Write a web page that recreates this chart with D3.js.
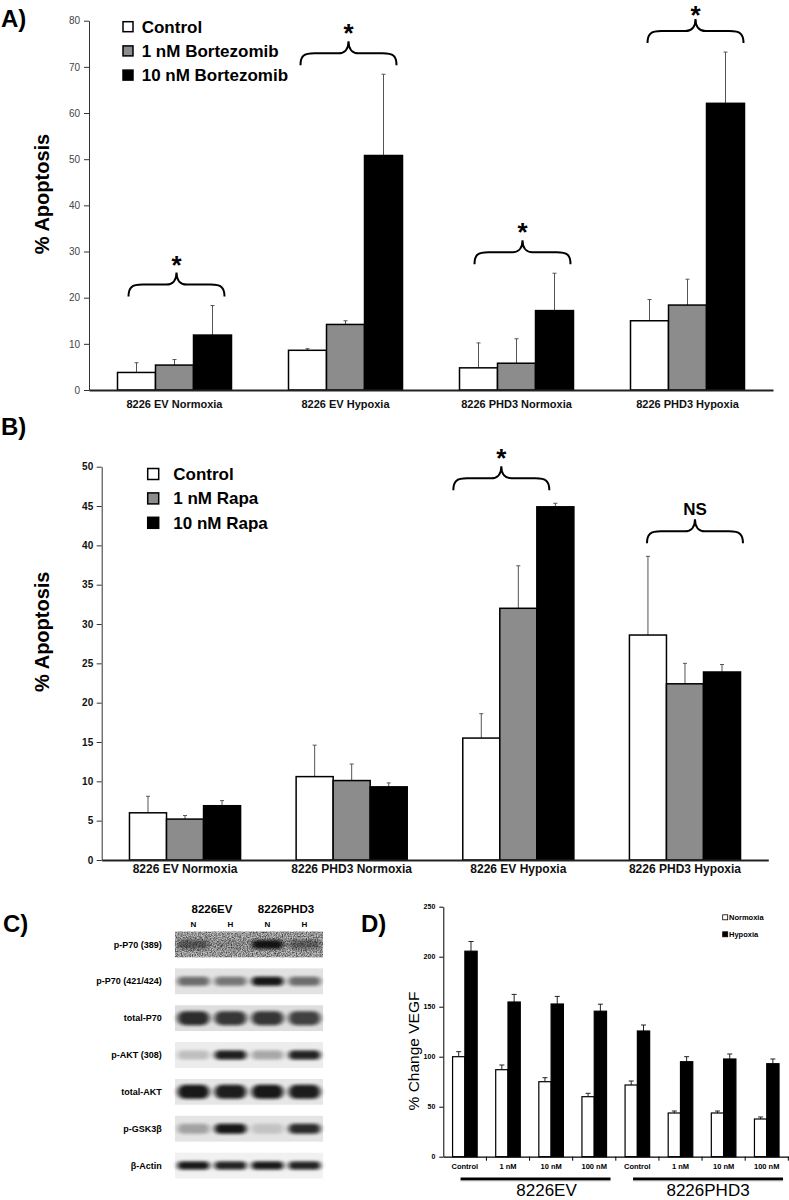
<!DOCTYPE html>
<html>
<head>
<meta charset="utf-8">
<script src="https://cdn.jsdelivr.net/npm/d3@7"></script>
<style>
  body { margin: 0; background: #fff; }
  svg { display: block; }
</style>
</head>
<body>
<svg id="fig" width="789" height="1200"></svg>
<script>
// ---- data: panel A (bortezomib) ----
const catsA = ["8226 EV Normoxia", "8226 EV Hypoxia", "8226 PHD3 Normoxia", "8226 PHD3 Hypoxia"];
const seriesA = ["Control", "1 nM Bortezomib", "10 nM Bortezomib"];
const controlA = [3.8, 8.6, 4.8, 15.0];
const bort1A = [5.4, 14.2, 5.8, 18.4];
const bort10A = [11.9, 50.8, 17.2, 62.1];
const controlErrA = [2.1, 0.35, 5.4, 4.6];
const bort1ErrA = [1.2, 0.8, 5.3, 5.6];
const bort10ErrA = [6.4, 17.6, 8.1, 11.1];
const sigA = ["*", "*", "*", "*"];

// ---- data: panel B (rapamycin) ----
const catsB = ["8226 EV Normoxia", "8226 PHD3 Normoxia", "8226 EV Hypoxia", "8226 PHD3 Hypoxia"];
const seriesB = ["Control", "1 nM Rapa", "10 nM Rapa"];
const controlB = [6.0, 10.6, 15.5, 28.6];
const rapa1B = [5.2, 10.1, 32.0, 22.4];
const rapa10B = [6.9, 9.3, 44.9, 23.9];
const controlErrB = [2.1, 4.0, 3.1, 10.0];
const rapa1ErrB = [0.45, 2.1, 5.4, 2.6];
const rapa10ErrB = [0.65, 0.5, 0.45, 0.95];
const sigB = [null, null, "*", "NS"];

// ---- data: panel C (western blot band intensity, 0..1) ----
const blotRows = ["p-P70 (389)", "p-P70 (421/424)", "total-P70", "p-AKT (308)", "total-AKT", "p-GSK3\u03b2", "\u03b2-Actin"];
const blotLanes = ["N", "H", "N", "H"];
const blotGroups = ["8226EV", "8226PHD3"];
const blotIntensity = [
  [0.5, 0.12, 0.95, 0.45],
  [0.55, 0.5, 0.95, 0.55],
  [0.85, 0.8, 0.8, 0.75],
  [0.2, 0.92, 0.3, 0.9],
  [0.95, 0.92, 0.95, 0.92],
  [0.3, 0.95, 0.15, 0.85],
  [0.95, 0.9, 0.95, 0.9],
];

// ---- data: panel D (VEGF) ----
const doseLabels = ["Control", "1 nM", "10 nM", "100 nM", "Control", "1 nM", "10 nM", "100 nM"];
const cellLines = ["8226EV", "8226PHD3"];
const seriesD = ["Normoxia", "Hypoxia"];
const normoxiaD = [100, 87, 75, 60, 71.7, 43.7, 43.7, 37.7];
const hypoxiaD = [205.5, 154.7, 152.7, 145.5, 125.7, 95, 97.7, 93];
const normoxiaErrD = [5, 4.7, 4, 3.4, 4, 2, 2, 2];
const hypoxiaErrD = [9.7, 7.6, 7.6, 7, 6, 5, 5, 4.7];

const FONT = '"Liberation Sans", Arial, Helvetica, sans-serif';
const fills = ["#ffffff", "#8c8c8c", "#000000"];
const svg = d3.select("#fig").attr("font-family", FONT);

const defs = svg.append("defs");
defs.append("filter").attr("id", "blur")
  .attr("x", "-50%").attr("y", "-100%").attr("width", "200%").attr("height", "300%")
  .append("feGaussianBlur").attr("stdDeviation", "2.4 1.6");
const nf = defs.append("filter").attr("id", "noise")
  .attr("x", 0).attr("y", 0).attr("width", "100%").attr("height", "100%");
nf.append("feTurbulence").attr("type", "fractalNoise").attr("baseFrequency", 0.8)
  .attr("numOctaves", 2).attr("seed", 4).attr("result", "t");
nf.append("feColorMatrix").attr("in", "t").attr("type", "matrix")
  .attr("values", "0 0 0 0 0  0 0 0 0 0  0 0 0 0 0  1.4 0 0 0 -0.45").attr("result", "n");
nf.append("feComposite").attr("in", "n").attr("in2", "SourceGraphic").attr("operator", "in");

function panelLetter(txt, x, y) {
  svg.append("text").text(txt).attr("x", x).attr("y", y)
    .attr("font-size", 24).attr("font-weight", "bold");
}

function brace(x1, x2, yEnd) {
  const xm = (x1 + x2) / 2, h = yEnd - 12;
  return `M${x1},${yEnd}C${x1},${yEnd - 9} ${x1 + 3},${h} ${x1 + 14},${h}` +
    `L${xm - 10},${h}C${xm - 4},${h} ${xm},${h - 4} ${xm},${yEnd - 24}` +
    `C${xm},${h - 4} ${xm + 4},${h} ${xm + 10},${h}` +
    `L${x2 - 14},${h}C${x2 - 3},${h} ${x2},${yEnd - 9} ${x2},${yEnd}`;
}

function drawApoptosis(cfg) {
  const g = svg.append("g");
  const y = d3.scaleLinear().domain([0, cfg.yMax]).range(cfg.yRange);
  const x0 = d3.scaleBand().domain(cfg.cats).range(cfg.xRange)
    .paddingInner(1 / 3).paddingOuter(1 / 6);
  const x1 = d3.scaleBand().domain(d3.range(cfg.series.length)).range([0, x0.bandwidth()]);

  const rows = cfg.cats.flatMap((c, i) =>
    cfg.series.map((s, j) => ({ c, i, j, v: cfg.values[j][i], e: cfg.errs[j][i] })));
  const cx = (d) => x0(d.c) + x1(d.j) + x1.bandwidth() / 2;

  g.selectAll(".err").data(rows).join("path")
    .attr("class", "err")
    .attr("d", (d) => {
      const t = y(d.v + d.e);
      return `M${cx(d)},${y(d.v)}V${t}M${cx(d) - 2},${t}H${cx(d) + 2}`;
    })
    .attr("stroke", "#555").attr("stroke-width", 1).attr("fill", "none");

  g.selectAll(".bar").data(rows).join("rect")
    .attr("class", "bar")
    .attr("x", (d) => x0(d.c) + x1(d.j))
    .attr("y", (d) => y(d.v))
    .attr("width", x1.bandwidth())
    .attr("height", (d) => y(0) - y(d.v))
    .attr("fill", (d) => fills[d.j])
    .attr("stroke", "#000").attr("stroke-width", 1.5);

  const ya = g.append("g")
    .attr("transform", `translate(${cfg.xRange[0]},0)`)
    .call(d3.axisLeft(y).tickValues(d3.range(0, cfg.yMax + 0.01, cfg.tickStep))
      .tickSize(5).tickPadding(cfg.tickPad).tickSizeOuter(0));
  ya.select(".domain").attr("stroke", "#333");
  ya.selectAll(".tick line").attr("stroke", "#333");
  ya.selectAll("text").attr("font-family", FONT).attr("font-size", 10)
    .attr("font-weight", cfg.tickBold ? "bold" : "normal").attr("fill", cfg.tickBold ? "#111" : "#444");

  const xa = g.append("g")
    .attr("transform", `translate(0,${y(0)})`)
    .call(d3.axisBottom(x0).tickSize(0).tickPadding(cfg.catPad).tickSizeOuter(0));
  xa.select(".domain").attr("stroke", "#222").attr("stroke-width", 2);
  xa.selectAll("text").attr("font-family", FONT).attr("font-size", cfg.catFont)
    .attr("font-weight", "bold").attr("fill", "#111");

  // legend
  const lg = g.append("g");
  cfg.series.forEach((s, j) => {
    const cy = cfg.legend.y0 + j * cfg.legend.dy;
    lg.append("rect").attr("x", cfg.legend.x).attr("y", cy - cfg.legend.sq / 2)
      .attr("width", cfg.legend.sq).attr("height", cfg.legend.sq)
      .attr("fill", fills[j]).attr("stroke", "#000").attr("stroke-width", 1.5);
    lg.append("text").text(s).attr("x", cfg.legend.textX).attr("y", cy + 6)
      .attr("font-size", 17).attr("font-weight", "bold");
  });

  g.append("text").text("% Apoptosis")
    .attr("transform", `translate(${cfg.ylabel[0]},${cfg.ylabel[1]}) rotate(-90)`)
    .attr("text-anchor", "middle").attr("dy", "0.36em")
    .attr("font-size", 20).attr("font-weight", "bold");

  // significance braces
  cfg.sig.forEach((s, i) => {
    if (!s) return;
    const c = cfg.cats[i];
    const top = d3.min(cfg.series, (_, j) => y(cfg.values[j][i] + cfg.errs[j][i]));
    const yEnd = top - cfg.braceGap;
    const xm = x0(c) + x0.bandwidth() / 2 + cfg.braceNudge[i];
    g.append("path").attr("d", brace(xm - 48, xm + 48, yEnd))
      .attr("fill", "none").attr("stroke", "#000").attr("stroke-width", 2);
    if (s === "*") {
      // asterisk glyph sits high: baseline about 0.57em below its centre
      const centre = Math.max(yEnd - 38, 9);
      g.append("text").text(s).attr("x", xm).attr("y", centre + 15)
        .attr("text-anchor", "middle").attr("font-size", 26).attr("font-weight", "bold");
    } else {
      g.append("text").text(s).attr("x", xm).attr("y", yEnd - 34 + 6)
        .attr("text-anchor", "middle").attr("font-size", 17).attr("font-weight", "bold");
    }
  });
}

// ---- panel A ----
panelLetter("A)", 1, 27);
drawApoptosis({
  cats: catsA, series: seriesA,
  values: [controlA, bort1A, bort10A],
  errs: [controlErrA, bort1ErrA, bort10ErrA],
  yMax: 80, tickStep: 10, yRange: [390, 20.7], xRange: [89, 773],
  tickPad: 4, tickBold: false, catFont: 11, catPad: 10.5,
  legend: { x: 123, y0: 26.7, dy: 24.2, sq: 10, textX: 141.7 },
  ylabel: [41.7, 194],
  sig: sigA, braceNudge: [2, 3, 6, 8], braceGap: 9,
});

// ---- panel B ----
panelLetter("B)", 1, 435);
drawApoptosis({
  cats: catsB, series: seriesB,
  values: [controlB, rapa1B, rapa10B],
  errs: [controlErrB, rapa1ErrB, rapa10ErrB],
  yMax: 50, tickStep: 5, yRange: [860, 466.7], xRange: [101.7, 768.3],
  tickPad: 3.5, tickBold: true, catFont: 12, catPad: 4.8,
  legend: { x: 147.7, y0: 474, dy: 24.4, sq: 11, textX: 173.3 },
  ylabel: [41.7, 631.7],
  sig: sigB, braceNudge: [0, 0, -17, 10], braceGap: 13,
});

// ---- panel C: western blot ----
panelLetter("C)", 3, 932);
{
  const g = svg.append("g");
  const lane = d3.scaleBand().domain(d3.range(blotLanes.length)).range([175, 323]);
  const row = d3.scaleBand().domain(blotRows).range([926, 1184]).paddingInner(0.3).paddingOuter(0.15);
  const rowBg = ["#c4c4c4", "#e2e2e2", "#dedede", "#ececec", "#e6e6e6", "#e4e4e4", "#f1f1f1"];
  const bandH = [9, 9, 14, 9, 14, 10, 8];

  blotGroups.forEach((name, k) => {
    g.append("text").text(name)
      .attr("x", lane(k * 2) + lane.bandwidth()).attr("y", 912.5)
      .attr("text-anchor", "middle").attr("font-size", 11.5).attr("font-weight", "bold");
  });
  blotLanes.forEach((l, i) => {
    g.append("text").text(l)
      .attr("x", lane(i) + lane.bandwidth() / 2).attr("y", 927)
      .attr("text-anchor", "middle").attr("font-size", 8).attr("font-weight", "bold");
  });

  blotRows.forEach((r, ri) => {
    const y0 = row(r), h = row.bandwidth(), cy = y0 + h / 2;
    g.append("rect").attr("x", lane.range()[0]).attr("y", y0)
      .attr("width", lane.range()[1] - lane.range()[0]).attr("height", h)
      .attr("fill", rowBg[ri]);
    if (ri === 0) {
      g.append("rect").attr("x", lane.range()[0]).attr("y", y0)
        .attr("width", lane.range()[1] - lane.range()[0]).attr("height", h)
        .attr("fill", "#000").attr("filter", "url(#noise)");
    }
    g.selectAll(null).data(blotIntensity[ri]).join("rect")
      .attr("x", (d, i) => lane(i) + 2.5)
      .attr("y", cy - bandH[ri] / 2)
      .attr("width", lane.bandwidth() - 5)
      .attr("height", bandH[ri])
      .attr("rx", bandH[ri] / 2)
      .attr("fill", "#0b0b0b")
      .attr("opacity", (d) => d)
      .attr("filter", "url(#blur)");
    g.append("text").text(r).attr("x", 161.7).attr("y", cy + 3.2)
      .attr("text-anchor", "end").attr("font-size", 9).attr("font-weight", "bold");
  });
}

// ---- panel D: VEGF ----
panelLetter("D)", 361, 932);
{
  const g = svg.append("g");
  const y = d3.scaleLinear().domain([0, 250]).range([1156.7, 906.7]);
  const x = d3.scaleBand().domain(d3.range(doseLabels.length)).range([443.3, 788.3])
    .paddingInner(0.43).paddingOuter(0.215);
  const xs = d3.scaleBand().domain([0, 1]).range([0, x.bandwidth()]);
  const vals = [normoxiaD, hypoxiaD], errs = [normoxiaErrD, hypoxiaErrD];
  const dFill = ["#ffffff", "#000000"];
  const rows = doseLabels.flatMap((l, i) => [0, 1].map((j) => ({ i, j, v: vals[j][i], e: errs[j][i] })));
  const cx = (d) => x(d.i) + xs(d.j) + xs.bandwidth() / 2;

  g.selectAll(".err").data(rows).join("path")
    .attr("d", (d) => {
      const t = y(d.v + d.e);
      return `M${cx(d)},${y(d.v)}V${t}M${cx(d) - 2.5},${t}H${cx(d) + 2.5}`;
    })
    .attr("stroke", "#222").attr("stroke-width", 1).attr("fill", "none");
  g.selectAll(".bar").data(rows).join("rect")
    .attr("x", (d) => x(d.i) + xs(d.j))
    .attr("y", (d) => y(d.v))
    .attr("width", xs.bandwidth())
    .attr("height", (d) => y(0) - y(d.v))
    .attr("fill", (d) => dFill[d.j])
    .attr("stroke", "#000").attr("stroke-width", 1.2);

  const ya = g.append("g").attr("transform", "translate(443.3,0)")
    .call(d3.axisLeft(y).tickValues(d3.range(0, 251, 50)).tickSize(4).tickPadding(4).tickSizeOuter(0));
  ya.selectAll("text").attr("font-family", FONT).attr("font-size", 7).attr("font-weight", "bold");

  const xa = g.append("g").attr("transform", `translate(0,${y(0)})`)
    .call(d3.axisBottom(x).tickSize(0).tickPadding(7).tickSizeOuter(0).tickFormat((i) => doseLabels[i]));
  xa.select(".domain").attr("stroke-width", 1.2);
  xa.selectAll("text").attr("font-family", FONT).attr("font-size", 7.5).attr("font-weight", "bold");
  g.selectAll(".bt").data(d3.range(1, doseLabels.length + 1)).join("line")
    .attr("x1", (k) => x.range()[0] + k * x.step()).attr("x2", (k) => x.range()[0] + k * x.step())
    .attr("y1", y(0)).attr("y2", y(0) + 4).attr("stroke", "#000");

  // legend
  seriesD.forEach((s, j) => {
    const cy = 917.3 + j * 17;
    g.append("rect").attr("x", 722.7).attr("y", cy - 2.5).attr("width", 5).attr("height", 5)
      .attr("fill", dFill[j]).attr("stroke", "#000").attr("stroke-width", 0.8);
    g.append("text").text(s).attr("x", 729).attr("y", cy + 2.7)
      .attr("font-size", 7.5).attr("font-weight", "bold");
  });

  g.append("text").text("% Change VEGF")
    .attr("transform", "translate(413,1051) rotate(-90)")
    .attr("text-anchor", "middle").attr("dy", "0.36em").attr("font-size", 15.5);

  // cell line underlines
  const nudge = [11, 0];
  cellLines.forEach((c, k) => {
    const a = x(k * 4) + 8, b = x(k * 4 + 3) + x.bandwidth() + 4;
    g.append("line").attr("x1", a).attr("x2", b).attr("y1", 1180.5).attr("y2", 1180.5)
      .attr("stroke", "#999").attr("stroke-width", 1.5);
    g.append("line").attr("x1", a).attr("x2", b).attr("y1", 1178.8).attr("y2", 1178.8)
      .attr("stroke", "#000").attr("stroke-width", 2.5);
    g.append("text").text(c).attr("x", (a + b) / 2 + nudge[k]).attr("y", 1196)
      .attr("text-anchor", "middle").attr("font-size", 17);
  });
}
</script>
</body>
</html>
